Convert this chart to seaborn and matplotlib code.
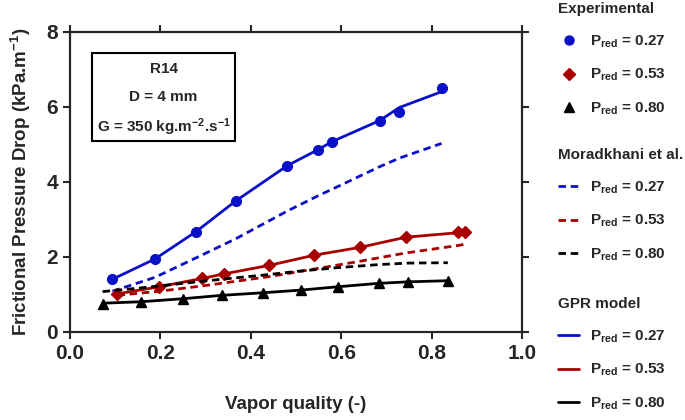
import pandas as pd
import seaborn as sns
import matplotlib
matplotlib.use('Agg')
import matplotlib.pyplot as plt
from matplotlib.lines import Line2D
from matplotlib.patches import Rectangle

x_027 = [0.094, 0.188, 0.279, 0.367, 0.481, 0.548, 0.580, 0.685, 0.729, 0.822]
exp_027 = [1.40, 1.94, 2.67, 3.49, 4.43, 4.85, 5.07, 5.63, 5.85, 6.49]
mor_027 = [1.08, 1.45, 1.97, 2.48, 3.22, 3.62, 3.80, 4.40, 4.63, 5.02]
gpr_027 = [1.40, 1.94, 2.67, 3.49, 4.43, 4.85, 5.07, 5.63, 5.98, 6.40]

x_053 = [0.105, 0.198, 0.292, 0.340, 0.441, 0.540, 0.642, 0.743, 0.859, 0.873]
exp_053 = [1.01, 1.20, 1.42, 1.54, 1.77, 2.04, 2.25, 2.52, 2.66, 2.66]
mor_053 = [0.97, 1.08, 1.22, 1.30, 1.47, 1.67, 1.88, 2.10, 2.30, 2.33]
gpr_053 = [1.01, 1.20, 1.42, 1.54, 1.77, 2.04, 2.25, 2.52, 2.64, 2.66]

x_080 = [0.072, 0.158, 0.250, 0.336, 0.428, 0.511, 0.594, 0.683, 0.748, 0.836]
exp_080 = [0.74, 0.80, 0.86, 0.97, 1.04, 1.11, 1.20, 1.29, 1.33, 1.36]
mor_080 = [1.07, 1.17, 1.29, 1.40, 1.51, 1.62, 1.71, 1.79, 1.83, 1.84]
gpr_080 = [0.76, 0.80, 0.88, 0.97, 1.04, 1.11, 1.20, 1.29, 1.33, 1.36]

pred_labels = ['0.27', '0.53', '0.80']
colors = ['#0a10c8', '#a80000', '#000000']
markers = ['o', 'D', '^']
marker_sizes = [7, 6.5, 7.5]
dash = (0, (2.7, 1.7))

sns.set_style('ticks')
plt.rcParams['font.family'] = ['Liberation Sans', 'DejaVu Sans']
plt.rcParams['font.weight'] = 'bold'
plt.rcParams['mathtext.fontset'] = 'custom'
plt.rcParams['mathtext.rm'] = 'Liberation Sans:bold'
plt.rcParams['mathtext.bf'] = 'Liberation Sans:bold'
plt.rcParams['mathtext.it'] = 'Liberation Sans:bold'

fig = plt.figure(figsize=(6.85, 4.2), dpi=100)
ax = fig.add_axes([0.1022, 0.2102, 0.6598, 0.7143])

xs = [x_027, x_053, x_080]
exps = [exp_027, exp_053, exp_080]
mors = [mor_027, mor_053, mor_080]
gprs = [gpr_027, gpr_053, gpr_080]

for i in range(3):
    df = pd.DataFrame({'x': xs[i], 'exp': exps[i], 'mor': mors[i], 'gpr': gprs[i]})
    sns.lineplot(data=df, x='x', y='mor', ax=ax, color=colors[i], lw=2.0,
                 linestyle=dash, sort=False)
    sns.lineplot(data=df, x='x', y='gpr', ax=ax, color=colors[i], lw=2.0, sort=False)
    ax.plot(df['x'], df['exp'], linestyle='none', marker=markers[i],
            ms=marker_sizes[i], color=colors[i], mec=colors[i])

ax.set_xlim(0, 1.0)
ax.set_ylim(0, 8)
ax.set_xticks([0.0, 0.2, 0.4, 0.6, 0.8, 1.0])
ax.set_xticklabels(['0.0', '0.2', '0.4', '0.6', '0.8', '1.0'])
ax.set_yticks([0, 2, 4, 6, 8])
ax.tick_params(direction='out', length=5, width=1.5, labelsize=15,
               top=True, right=True, labeltop=False, labelright=False)
for s in ax.spines.values():
    s.set_linewidth(1.6)
    s.set_visible(True)

ax.set_xlabel('Vapor quality (-)', fontsize=13.5, fontweight='bold', labelpad=24)
ax.set_ylabel(r'Frictional Pressure Drop (kPa.m$^{-1}$)', fontsize=13.5,
              fontweight='bold', labelpad=10)

# info box
ax.add_patch(Rectangle((0.048, 0.637), 0.3175, 0.291, transform=ax.transAxes,
                       fill=False, ec='black', lw=1.5))
ax.text(0.207, 0.875, 'R14', transform=ax.transAxes, ha='center', va='center',
        fontsize=11, fontweight='bold')
ax.text(0.207, 0.783, 'D = 4 mm', transform=ax.transAxes, ha='center', va='center',
        fontsize=11, fontweight='bold')
ax.text(0.207, 0.683, r'G = 350 kg.m$^{-2}$.s$^{-1}$', transform=ax.transAxes,
        ha='center', va='center', fontsize=11, fontweight='bold')

# legends
entry_labels = [r'$\mathbf{P_{red}}$ = ' + p for p in pred_labels]
groups = [
    ('Experimental', [Line2D([], [], ls='none', marker=markers[i], ms=marker_sizes[i] - 0.5,
                             color=colors[i]) for i in range(3)], 1 - 2 / 420),
    ('Moradkhani et al.', [Line2D([], [], ls=dash, lw=2.0, color=colors[i])
                           for i in range(3)], 1 - 148 / 420),
    ('GPR model', [Line2D([], [], lw=2.0, color=colors[i]) for i in range(3)], 1 - 297 / 420),
]
for title, handles, ytop in groups:
    leg = fig.legend(handles, entry_labels, title=title, loc='upper left',
                     bbox_to_anchor=(558 / 685, ytop), frameon=False, borderpad=0,
                     fontsize=11, title_fontproperties={'weight': 'bold', 'size': 11},
                     alignment='left', handlelength=1.4, handletextpad=0.7,
                     labelspacing=1.13, borderaxespad=0)
    for t in leg.get_texts():
        t.set_fontweight('bold')

fig.savefig('out.png', dpi=100)
